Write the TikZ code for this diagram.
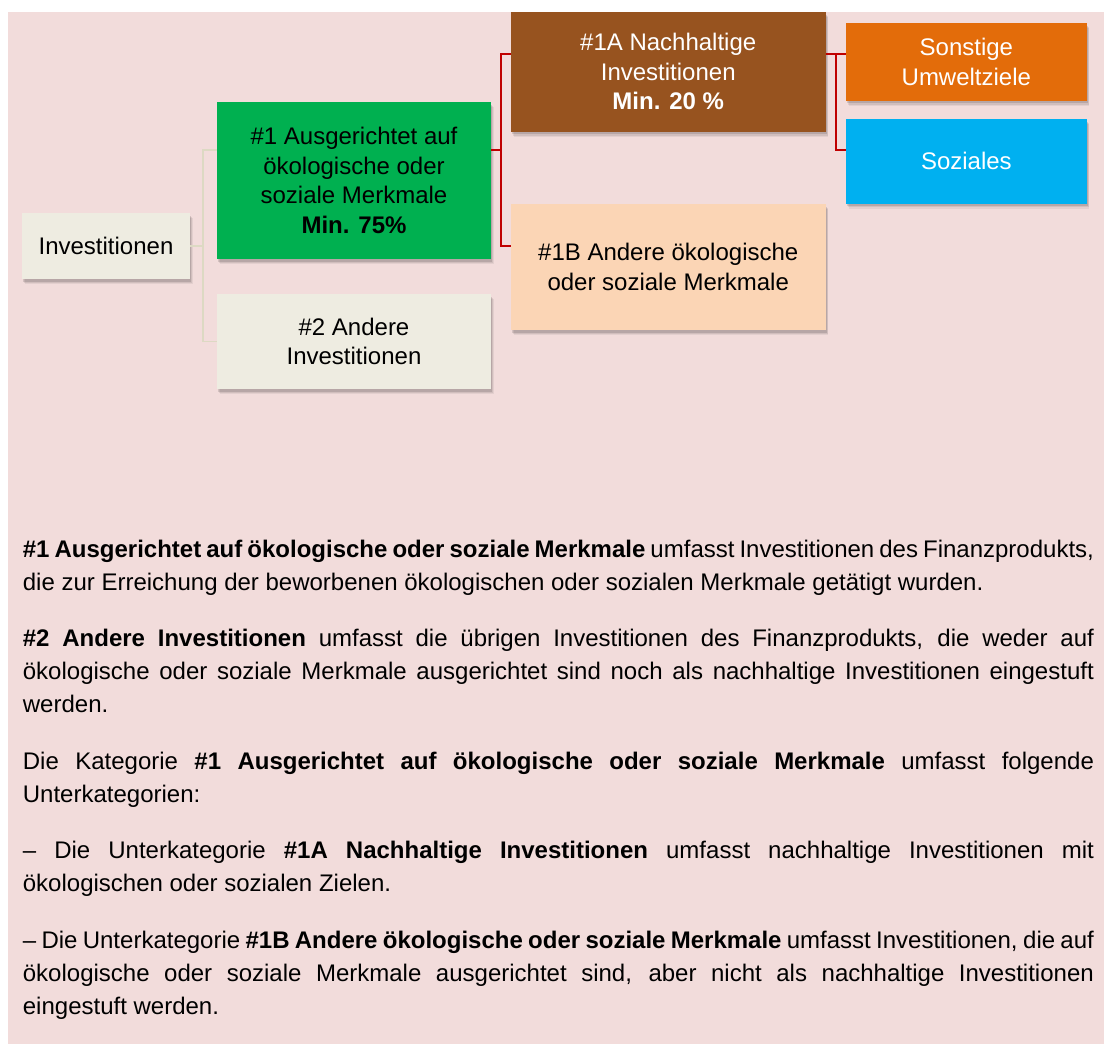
\documentclass[tikz,border=0pt]{standalone}
\usepackage{fontspec}
\setmainfont{Liberation Sans}
\usetikzlibrary{shadows}
\definecolor{pinkbg}{HTML}{F2DCDB}
\definecolor{beigebox}{HTML}{EEECE1}
\definecolor{greenbox}{HTML}{00B050}
\definecolor{brownbox}{HTML}{97531F}
\definecolor{orangebox}{HTML}{E36C0A}
\definecolor{bluebox}{HTML}{00B0F0}
\definecolor{peachbox}{HTML}{FBD5B5}
\definecolor{redline}{HTML}{C00000}
\definecolor{lightline}{HTML}{DDD9C3}
\begin{document}
\begin{tikzpicture}[x=1pt,y=-1pt,
  box/.style={draw=none, inner sep=0pt, align=center,
    font=\fontsize{24}{29.5}\selectfont,
    drop shadow={shadow xshift=2.5pt, shadow yshift=-5pt, opacity=0.06, fill=black},
    drop shadow={shadow xshift=2pt, shadow yshift=-3.8pt, opacity=0.08, fill=black},
    drop shadow={shadow xshift=1.2pt, shadow yshift=-2.5pt, opacity=0.12, fill=black}},
  lightcon/.style={draw=lightline, line width=1.3pt},
  redcon/.style={draw=redline, line width=1.8pt}]
\useasboundingbox (0,0) rectangle (1104,1044);
\fill[pinkbg] (8,12) rectangle (1104,1044);

% junction coordinates
\coordinate (j0) at (203,246);
\coordinate (ja) at (203,150);
\coordinate (jb) at (203,341.5);
\coordinate (k0) at (501,150);
\coordinate (ka) at (501,54);
\coordinate (kb) at (501,246);
\coordinate (m0) at (836,54);
\coordinate (mb) at (836,150);

% boxes
\node[box, fill=beigebox, minimum width=168pt, minimum height=66pt] (inv) at (106,246) {Investitionen};
\node[box, fill=greenbox, minimum width=274pt, minimum height=157pt] (green) at (354,180.5)
  {\#1 Ausgerichtet auf\\ökologische oder\\soziale Merkmale\\\textbf{Min. 75\%}};
\node[box, fill=beigebox, minimum width=274pt, minimum height=95pt] (two) at (354,341.5)
  {\#2 Andere\\Investitionen};
\node[box, fill=brownbox, text=white, minimum width=314.5pt, minimum height=119.7pt] (brown) at (668.25,71.85)
  {\#1A Nachhaltige\\Investitionen\\\textbf{Min. 20 \%}};
\node[box, fill=peachbox, minimum width=314.5pt, minimum height=126pt] (peach) at (668.25,267)
  {\#1B Andere ökologische\\oder soziale Merkmale};
\node[box, fill=orangebox, text=white, minimum width=240.7pt, minimum height=77.7pt] (orange) at (966.35,61.85)
  {Sonstige\\Umweltziele};
\node[box, fill=bluebox, text=white, minimum width=240.7pt, minimum height=84.5pt] (blue) at (966.35,161.25)
  {Soziales};

% connectors
\draw[lightcon] (inv.east) -- (j0);
\draw[lightcon] (green.west |- ja) -- (ja) -- (jb) -- (two.west |- jb);
\draw[redcon] (green.east |- k0) -- (k0);
\draw[redcon] (brown.west |- ka) -- (ka) -- (kb) -- (peach.west |- kb);
\draw[redcon] (brown.east |- m0) -- (m0);
\draw[redcon] (orange.west |- m0) -- (m0) -- (mb) -- (blue.west |- mb);

% body text
\node[anchor=base west, inner sep=0pt, font=\fontsize{24}{33}\selectfont] (body) at (22.7,557) {\vtop{\hsize=1071pt \baselineskip=33pt
\hbox to\hsize{\textbf{\#1 Ausgerichtet auf ökologische oder soziale Merkmale} umfasst Investitionen des Finanzprodukts,}
\hbox{die zur Erreichung der beworbenen ökologischen oder sozialen Merkmale getätigt wurden.}
\vskip23.5pt
\hbox to\hsize{\textbf{\#2 Andere Investitionen} umfasst die übrigen Investitionen des Finanzprodukts, die weder auf}
\hbox to\hsize{ökologische oder soziale Merkmale ausgerichtet sind noch als nachhaltige Investitionen eingestuft}
\hbox{werden.}
\vskip23.5pt
\hbox to\hsize{Die Kategorie \textbf{\#1 Ausgerichtet auf ökologische oder soziale Merkmale} umfasst folgende}
\hbox{Unterkategorien:}
\vskip23.5pt
\hbox to\hsize{– Die Unterkategorie \textbf{\#1A Nachhaltige Investitionen} umfasst nachhaltige Investitionen mit}
\hbox{ökologischen oder sozialen Zielen.}
\vskip23.5pt
\hbox to\hsize{– Die Unterkategorie \textbf{\#1B Andere ökologische oder soziale Merkmale} umfasst Investitionen, die auf}
\hbox to\hsize{ökologische oder soziale Merkmale ausgerichtet sind, aber nicht als nachhaltige Investitionen}
\hbox{eingestuft werden.}
}};
\end{tikzpicture}
\end{document}
